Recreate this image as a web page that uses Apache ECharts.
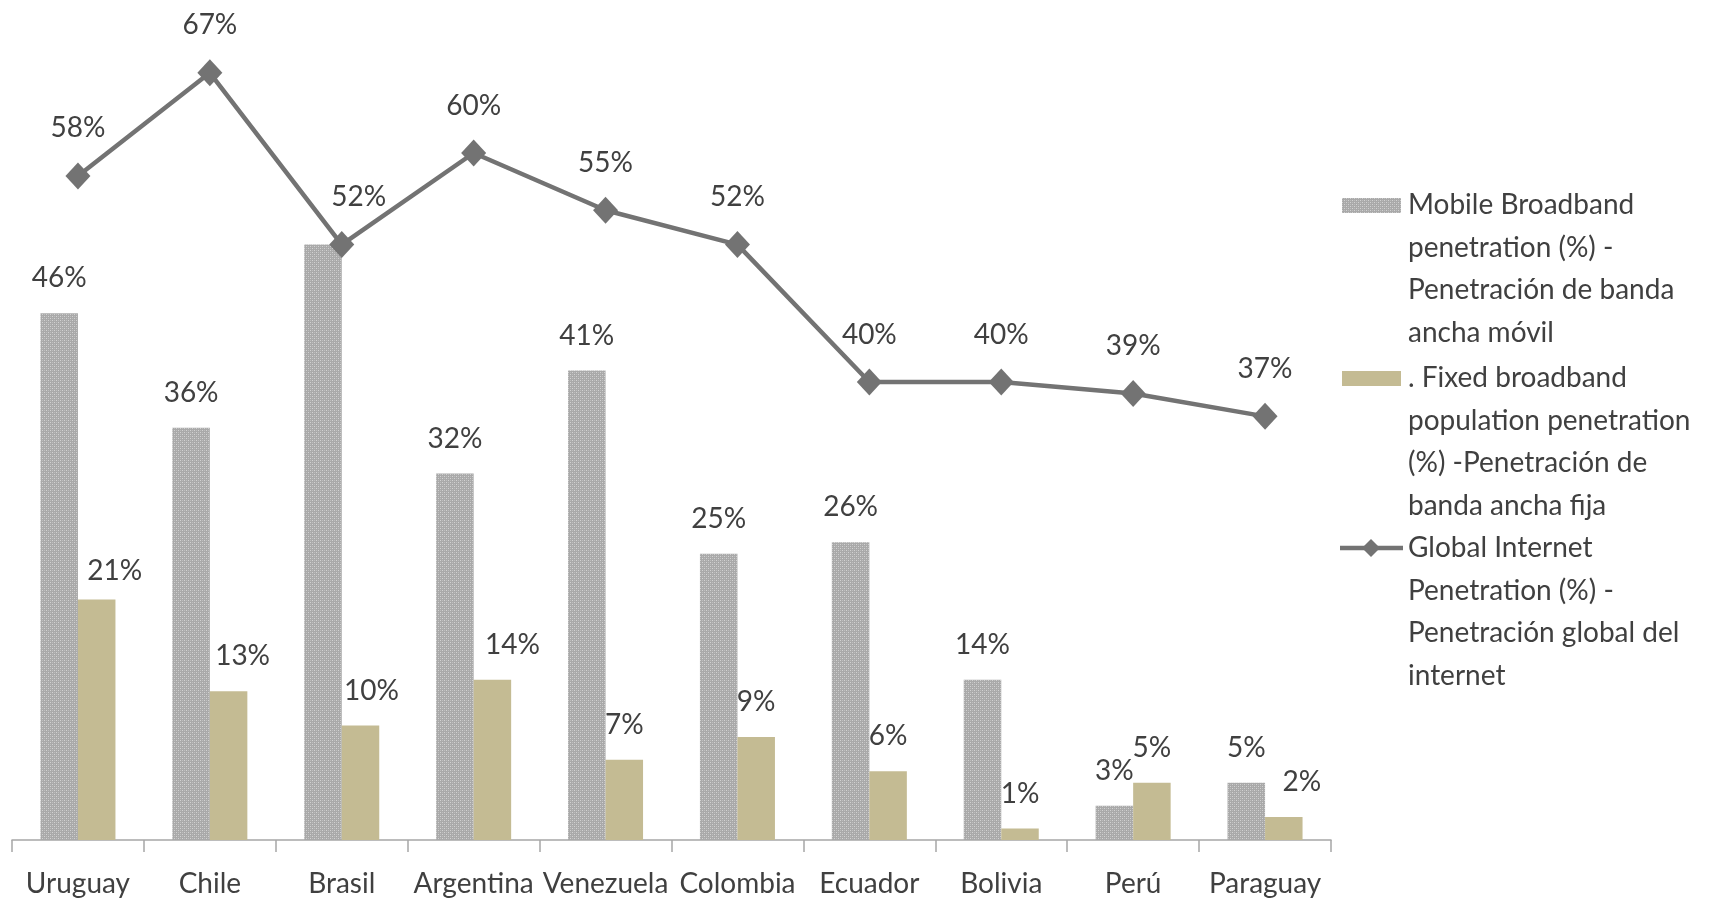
<!DOCTYPE html>
<html>
<head>
<meta charset="utf-8">
<script src="https://cdn.jsdelivr.net/npm/echarts@6/dist/echarts.min.js"></script>
<style>
  html, body { margin: 0; padding: 0; background: #ffffff; }
  #chart { width: 1725px; height: 907px; }
</style>
</head>
<body>
<div id="chart"></div>
<script>
// Broadband and internet penetration by country (%)
const countries = ['Uruguay', 'Chile', 'Brasil', 'Argentina', 'Venezuela', 'Colombia', 'Ecuador', 'Bolivia', 'Perú', 'Paraguay'];
const mobileBroadband = [46, 36, 52, 32, 41, 25, 26, 14, 3, 5];
const fixedBroadband = [21, 13, 10, 14, 7, 9, 6, 1, 5, 2];
const globalInternet = [58, 67, 52, 60, 55, 52, 40, 40, 39, 37];

const seriesNames = [
  'Mobile Broadband\npenetration (%) -\nPenetración de banda\nancha móvil',
  '. Fixed broadband\npopulation penetration\n(%) -Penetración de\nbanda ancha fija',
  'Global Internet\nPenetration (%) -\nPenetración global del\ninternet'
];

// label nudges (px) for a few crowded data labels
const fixedLabelShiftX = [18, 14, 11, 20, 0, 0, 0, 0, 0, 18];
const fixedLabelShiftY = [6, 0, 0, 0, 0, 0, 0, 0, 0, 0];

const FONT = 'Lato, "Open Sans", sans-serif';
const TEXT = '#404040';
const FONT_SIZE = 28;

// dotted grey fill for the mobile broadband bars
function dotPattern() {
  const c = document.createElement('canvas');
  c.width = 4; c.height = 4;
  const g = c.getContext('2d');
  g.fillStyle = '#a9a9a9';
  g.fillRect(0, 0, 4, 4);
  g.fillStyle = '#d2d2d2';
  g.fillRect(0, 0, 1, 1);
  g.fillRect(2, 2, 1, 1);
  g.fillStyle = '#bdbdbd';
  g.fillRect(2, 0, 1, 1);
  g.fillRect(0, 2, 1, 1);
  return c;
}
const mobileFill = { image: dotPattern(), repeat: 'repeat' };
const fixedColor = '#c4bb93';
const lineColor = '#737373';

const labelStyle = {
  show: true,
  position: 'top',
  fontFamily: FONT,
  fontSize: FONT_SIZE,
  color: TEXT,
  lineHeight: 30,
  formatter: p => p.value + '%'
};

const chart = echarts.init(document.getElementById('chart'), null, { renderer: 'canvas' });

// legend block on the right
const legendX = 1408;
const legendLH = 42.5;
function legendText(str, firstCenterY) {
  return {
    type: 'text',
    style: {
      text: str,
      x: legendX,
      y: firstCenterY - legendLH / 2,
      font: FONT_SIZE + 'px ' + FONT,
      fill: TEXT,
      lineHeight: legendLH,
      verticalAlign: 'top'
    }
  };
}

const option = {
  backgroundColor: '#ffffff',
  animation: false,
  grid: { left: 12, right: 394, top: 38.5, bottom: 67, containLabel: false },
  xAxis: {
    type: 'category',
    data: countries,
    boundaryGap: true,
    axisLine: { show: true, lineStyle: { color: '#a6a6a6', width: 1.5 } },
    axisTick: { show: true, length: 12, lineStyle: { color: '#a6a6a6', width: 1.5 } },
    axisLabel: { fontFamily: FONT, fontSize: FONT_SIZE, color: TEXT, margin: 30, interval: 0 }
  },
  yAxis: {
    type: 'value',
    min: 0,
    max: 70,
    show: false,
    splitLine: { show: false }
  },
  series: [
    {
      name: seriesNames[0],
      type: 'bar',
      barWidth: 37.5,
      barGap: '0%',
      itemStyle: { color: mobileFill },
      label: Object.assign({}, labelStyle, { distance: 20 }),
      data: mobileBroadband.map((v, i) => i === 2
        ? { value: v, label: { show: false } }
        : v),
      z: 2
    },
    {
      name: seriesNames[1],
      type: 'bar',
      barWidth: 37.5,
      barGap: '0%',
      itemStyle: { color: fixedColor },
      label: Object.assign({}, labelStyle, { distance: 20 }),
      data: fixedBroadband.map((v, i) => ({
        value: v,
        label: { offset: [fixedLabelShiftX[i], fixedLabelShiftY[i]] }
      })),
      z: 2
    },
    {
      name: seriesNames[2],
      type: 'line',
      symbol: 'diamond',
      symbolSize: [25, 27],
      lineStyle: { color: lineColor, width: 4.5 },
      itemStyle: { color: lineColor },
      label: Object.assign({}, labelStyle, { distance: 19 }),
      data: globalInternet.map((v, i) => i === 2
        ? { value: v, label: { offset: [17, 0] } }
        : v),
      z: 5
    }
  ],
  graphic: [
    { type: 'rect', shape: { x: 1342, y: 198, width: 59, height: 15 }, style: { fill: mobileFill } },
    legendText(seriesNames[0], 205),
    { type: 'rect', shape: { x: 1342, y: 371, width: 59, height: 15 }, style: { fill: fixedColor } },
    legendText(seriesNames[1], 378),
    { type: 'line', shape: { x1: 1340, y1: 548, x2: 1403, y2: 548 }, style: { stroke: lineColor, lineWidth: 4.5 } },
    { type: 'polygon', shape: { points: [[1371, 539], [1380, 548], [1371, 557], [1362, 548]] }, style: { fill: lineColor } },
    legendText(seriesNames[2], 548)
  ]
};

chart.setOption(option);
</script>
</body>
</html>
